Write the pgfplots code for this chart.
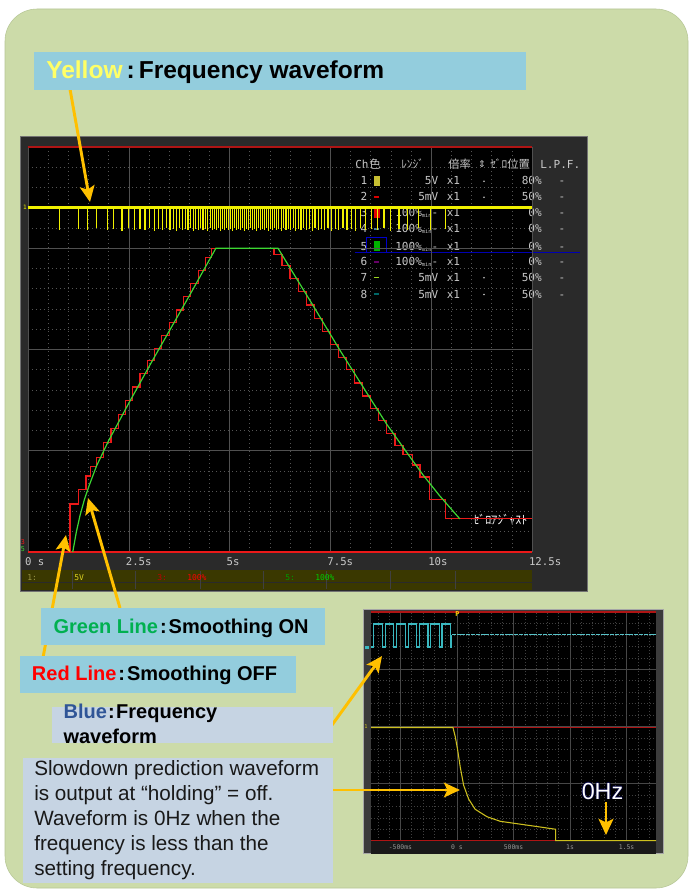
\documentclass[border=0pt]{standalone}
\usepackage{fontspec}
\setmainfont{Liberation Sans}
\newfontfamily\osc{DejaVu Sans Mono}
\newfontfamily\jp{Noto Sans CJK JP}
\newfontfamily\dv{DejaVu Sans}
\usepackage{pgfplots}
\pgfplotsset{compat=1.18}
\usetikzlibrary{arrows.meta}

\definecolor{panel}{RGB}{204,219,169}
\definecolor{panelline}{RGB}{182,198,150}
\definecolor{boxcyan}{RGB}{147,205,221}
\definecolor{boxgray}{RGB}{198,212,227}
\definecolor{arrow}{RGB}{255,192,0}
\definecolor{ylwtxt}{RGB}{255,255,102}
\definecolor{grntxt}{RGB}{0,176,80}
\definecolor{redtxt}{RGB}{255,0,0}
\definecolor{blutxt}{RGB}{47,85,151}
\definecolor{scrframe}{RGB}{42,42,42}
\definecolor{scrtext}{RGB}{200,200,200}
\definecolor{scrgrid}{RGB}{80,80,80}
\definecolor{scrminor}{RGB}{85,85,85}
\definecolor{scrred}{RGB}{175,20,20}
\definecolor{tracered}{RGB}{235,25,25}
\definecolor{tracegreen}{RGB}{60,215,50}
\definecolor{traceyellow}{RGB}{240,240,0}
\definecolor{tracecyan}{RGB}{58,184,192}
\definecolor{traceolive}{RGB}{205,192,30}
\definecolor{barolive}{RGB}{58,56,0}

\newcommand\rmin{100\%\raisebox{-0.8pt}{\fontsize{4}{4}\selectfont min}-}

\tikzset{
  osct/.style={font=\osc\fontsize{8.3}{8.3}\selectfont, text=scrtext, inner sep=0pt},
  jpt/.style={font=\jp\fontsize{8.5}{8.5}\selectfont, text=scrtext, inner sep=0pt},
  arr/.style={draw=arrow, line width=2.2pt, -{Stealth[length=12pt,width=11pt,inset=2.5pt]}},
}

\begin{document}
\begin{tikzpicture}
% ---------- background and screen frames (px coordinates, y down)
\begin{scope}[x=0.75pt,y=-0.75pt]
  \useasboundingbox (0,0) rectangle (691,892);
  \fill[white] (0,0) rectangle (691,892);
  \draw[panelline, fill=panel, rounded corners=24pt] (5,9) rectangle (688,888);
  % main screen
  \draw[fill=scrframe, draw=black!55] (20,136.5) rectangle (587,591);
  \fill[black] (28,147) rectangle (532,552);
  \coordinate (mainSW) at (28,552);
  % channel list
  \node[osct, anchor=base west] at (355,168) {Ch};
  \node[jpt, anchor=base west] at (369,168) {色};
  \node[jpt, anchor=base west] at (401,168) {ﾚﾝｼﾞ};
  \node[jpt, anchor=base west] at (448,168) {倍率};
  \node[osct, anchor=base, font=\dv\fontsize{7}{7}\selectfont] at (482,167.5) {⇕};
  \node[jpt, anchor=base west] at (490,168) {ｾﾞﾛ位置};
  \node[osct, anchor=base west] at (540,168) {L.P.F.};
  \foreach \n/\yy/\rng/\pos/\dt in {1/184.7/5V/80/1, 2/200.7/5mV/50/1, 3/216.7/\rmin/0/0,
      4/232.7/\rmin/0/0, 5/250/\rmin/0/0, 6/265.7/\rmin/0/0, 7/281.3/5mV/50/1, 8/298/5mV/50/1}{
    \node[osct, anchor=base] at (364,\yy) {\n};
    \node[osct, anchor=base east] at (438.5,\yy) {\rng};
    \node[osct, anchor=base west] at (446.5,\yy) {x1};
    \ifnum\dt=1 \fill[scrtext] (484,\yy-3.5) circle (0.9);\fi
    \node[osct, anchor=base east] at (542,\yy) {\pos\%};
    \node[osct, anchor=base] at (562,\yy) {-};
  }
  \fill[yellow!75!black] (374,175.5) rectangle (380,186);
  \fill[red!85!black] (374,196) rectangle (379,197.5);
  \fill[red!90!black] (374,207.5) rectangle (380,218);
  \fill[cyan!60!black] (374,228) rectangle (379,229.5);
  \fill[green!70!black] (374,240.5) rectangle (380,251);
  \draw[blue!80!black, line width=0.6pt] (366.7,237.3) rectangle (386.7,252.7);
  \draw[blue!70!black, line width=0.6pt] (355,252.7) -- (580,252.7);
  \fill[violet!80!black] (374,261) rectangle (379,262.5);
  \fill[yellow!60!green] (374,276.5) rectangle (379,278);
  \fill[teal!80!black] (374,293) rectangle (379,294.5);
  % bottom channel bar
  \fill[barolive] (22,570) rectangle (532,581.5);
  \fill[barolive] (22,583) rectangle (532,590);
  \foreach \xx in {72,135,200,263,326,390,455}
    \draw[black!75, line width=0.5pt] (\xx,571) -- (\xx,589);
  \node[osct, anchor=base west, font=\osc\fontsize{6}{6}\selectfont, text=yellow!55!black] at (27,580) {1:};
  \node[osct, anchor=base west, font=\osc\fontsize{6}{6}\selectfont, text=yellow!85!black] at (74,580) {5V};
  \node[osct, anchor=base west, font=\osc\fontsize{6}{6}\selectfont, text=red!75!black] at (157,580) {3:};
  \node[osct, anchor=base west, font=\osc\fontsize{6}{6}\selectfont, text=red] at (187,580) {100\%};
  \node[osct, anchor=base west, font=\osc\fontsize{6}{6}\selectfont, text=green!60!black] at (285,580) {5:};
  \node[osct, anchor=base west, font=\osc\fontsize{6}{6}\selectfont, text=green!80!black] at (315,580) {100\%};
  % left channel markers
  \node[osct, font=\osc\fontsize{4.5}{4.5}\selectfont, text=traceyellow] at (25,207) {1};
  \node[osct, font=\osc\fontsize{5}{5}\selectfont, text=tracered] at (23,542) {3};
  \node[osct, font=\osc\fontsize{5}{5}\selectfont, text=tracegreen] at (23,549) {5};
  \node[anchor=base west, inner sep=0pt, font=\jp\fontsize{9}{9}\selectfont, text=white] at (473,524) {ｾﾞﾛｱｼﾞｬｽﾄ};
  % inset screen
  \draw[fill=black!77, draw=black!35] (363.5,609) rectangle (663.5,853.5);
  \fill[black!90] (371,841) rectangle (656,853.5);
  \coordinate (insetSW) at (371,840.7);
\end{scope}

% ---------- main recorder screen
\begin{axis}[
  at={(mainSW)}, anchor=south west,
  scale only axis, width=378pt, height=303.75pt,
  xmin=0, xmax=12.5, ymin=0, ymax=4,
  clip=false,
  axis line style={draw=none},
  tick style={draw=none},
  xtick={0,2.5,5,7.5,10,12.5},
  xticklabels={0 s,2.5s,5s,7.5s,10s,12.5s},
  ytick={0,1,2,3,4}, yticklabels={},
  minor x tick num=4, minor y tick num=4,
  grid=both,
  major grid style={draw=scrgrid, line width=0.45pt},
  minor grid style={draw=scrminor, line width=0.45pt, dash pattern=on 0.6pt off 2.4pt},
  xticklabel style={font=\osc\fontsize{8}{8}\selectfont, text=scrtext,
    anchor=north west, inner sep=0pt, xshift=-2.4pt, yshift=-3.8pt},
]
\draw[scrred, line width=1.3pt] (axis cs:0,4) -- (axis cs:12.5,4);
\draw[tracered, line width=1.3pt] (axis cs:0,0) -- (axis cs:12.5,0);
% Smoothing OFF (red)
\addplot[const plot, draw=tracered, line width=0.9pt] coordinates {
(0,0)(1.04,0.475)(1.245,0.62)(1.44,0.75)(1.56,0.845)(1.70,0.93)(1.88,1.08)(2.06,1.22)
(2.24,1.36)(2.42,1.50)(2.60,1.63)(2.78,1.76)(2.96,1.89)(3.14,2.01)(3.32,2.14)(3.50,2.27)
(3.68,2.39)(3.86,2.52)(4.04,2.65)(4.22,2.78)(4.40,2.91)(4.56,3.0)
(6.10,2.94)(6.30,2.83)(6.50,2.70)(6.70,2.57)(6.90,2.44)(7.10,2.31)(7.30,2.18)(7.50,2.05)
(7.70,1.92)(7.90,1.80)(8.10,1.67)(8.30,1.54)(8.50,1.42)(8.70,1.30)(8.90,1.17)(9.10,1.05)
(9.30,0.96)(9.54,0.86)(9.72,0.74)(9.95,0.52)(10.35,0.327)(12.5,0.327)};
% Smoothing ON (green)
\addplot[draw=tracegreen, line width=0.9pt] coordinates {
(1.11,0)(1.20,0.20)(1.29,0.36)(1.40,0.52)(1.52,0.66)(1.70,0.85)(2.0,1.10)(2.5,1.47)
(3.0,1.83)(3.5,2.18)(4.0,2.53)(4.66,3.0)(6.2,3.0)(7.0,2.48)(7.74,1.99)(8.5,1.51)
(8.9,1.26)(9.4,0.98)(9.8,0.76)(10.2,0.56)(10.71,0.327)};
% frequency pulses (yellow)
\addplot[draw=traceyellow, line width=2.2pt] coordinates {(0,3.4)(12.5,3.4)};
\addplot[draw=none, mark=none,
  error bars/.cd, y dir=minus, y explicit, error mark=none,
  error bar style={draw=traceyellow, solid, line width=0.9pt}]
  table[x index=0, y index=1, y error minus index=2] {
0.79 3.4 0.22
1.25 3.4 0.21
1.47 3.4 0.22
1.70 3.4 0.20
1.97 3.4 0.22
2.13 3.4 0.21
2.33 3.4 0.23
2.50 3.4 0.20
2.64 3.4 0.22
2.78 3.4 0.21
2.90 3.4 0.22
3.02 3.4 0.20
3.13 3.4 0.23
3.24 3.4 0.21
3.34 3.4 0.22
3.43 3.4 0.20
3.52 3.4 0.22
3.60 3.4 0.21
3.68 3.4 0.23
3.76 3.4 0.20
3.83 3.4 0.22
3.90 3.4 0.21
3.97 3.4 0.22
4.04 3.4 0.20
4.10 3.4 0.23
4.16 3.4 0.21
4.22 3.4 0.22
4.28 3.4 0.20
4.34 3.4 0.22
4.40 3.4 0.21
4.46 3.4 0.23
4.52 3.4 0.20
4.57 3.4 0.22
4.62 3.4 0.21
4.67 3.4 0.22
4.72 3.4 0.20
4.77 3.4 0.23
4.82 3.4 0.21
4.87 3.4 0.22
4.92 3.4 0.20
4.97 3.4 0.22
5.02 3.4 0.21
5.07 3.4 0.23
5.12 3.4 0.20
5.17 3.4 0.22
5.22 3.4 0.21
5.27 3.4 0.22
5.32 3.4 0.20
5.37 3.4 0.23
5.42 3.4 0.21
5.47 3.4 0.22
5.52 3.4 0.20
5.57 3.4 0.22
5.62 3.4 0.21
5.67 3.4 0.23
5.72 3.4 0.20
5.77 3.4 0.22
5.82 3.4 0.21
5.87 3.4 0.22
5.92 3.4 0.20
5.97 3.4 0.23
6.02 3.4 0.21
6.07 3.4 0.22
6.12 3.4 0.20
6.17 3.4 0.22
6.22 3.4 0.21
6.28 3.4 0.23
6.34 3.4 0.20
6.40 3.4 0.22
6.46 3.4 0.21
6.52 3.4 0.22
6.58 3.4 0.20
6.64 3.4 0.23
6.70 3.4 0.21
6.77 3.4 0.22
6.84 3.4 0.20
6.91 3.4 0.22
6.98 3.4 0.21
7.05 3.4 0.23
7.12 3.4 0.20
7.20 3.4 0.22
7.28 3.4 0.21
7.36 3.4 0.22
7.44 3.4 0.20
7.53 3.4 0.23
7.62 3.4 0.21
7.71 3.4 0.22
7.81 3.4 0.20
7.91 3.4 0.22
8.02 3.4 0.21
8.13 3.4 0.23
8.25 3.4 0.20
8.38 3.4 0.22
8.52 3.4 0.21
8.67 3.4 0.22
8.83 3.4 0.20
9.00 3.4 0.23
9.20 3.4 0.21
9.42 3.4 0.22
9.68 3.4 0.20
9.98 3.4 0.22
10.35 3.4 0.21
};
\end{axis}

% ---------- inset: slowdown prediction
\begin{axis}[
  at={(insetSW)}, anchor=south west,
  scale only axis, width=213.75pt, height=171.5pt,
  xmin=-0.76, xmax=1.76, ymin=0, ymax=4,
  clip=false,
  axis background/.style={fill=black},
  axis line style={draw=none}, tick style={draw=none},
  xtick={-0.5,0,0.5,1,1.5}, xticklabels={-500ms,0 s,500ms,1s,1.5s},
  minor xtick={-0.7,-0.6,-0.4,-0.3,-0.2,-0.1,0.1,0.2,0.3,0.4,0.6,0.7,0.8,0.9,1.1,1.2,1.3,1.4,1.6,1.7},
  ytick={0,1,2,3,4}, yticklabels={}, minor y tick num=4,
  grid=both,
  major grid style={draw=black!72, line width=0.4pt},
  minor grid style={draw=black!75, line width=0.4pt, dash pattern=on 0.5pt off 1.8pt},
  xticklabel style={font=\osc\fontsize{4.8}{4.8}\selectfont, text=black!40, inner sep=0pt, yshift=-2.6pt},
]
\draw[scrred, line width=1pt] (axis cs:-0.76,4) -- (axis cs:1.76,4);
\draw[scrred, line width=1pt] (axis cs:-0.76,0) -- (axis cs:1.76,0);
\addplot[draw=scrred, line width=0.8pt] coordinates {(-0.76,1.98)(1.76,1.98)};
\addplot[draw=tracecyan, line width=0.9pt] coordinates {
(-0.76,3.39)(-0.741,3.39)(-0.741,3.79)(-0.661,3.79)(-0.661,3.39)(-0.632,3.39)(-0.632,3.79)
(-0.559,3.79)(-0.559,3.39)(-0.535,3.39)(-0.535,3.79)(-0.456,3.79)(-0.456,3.39)(-0.432,3.39)
(-0.432,3.79)(-0.359,3.79)(-0.359,3.39)(-0.329,3.39)(-0.329,3.79)(-0.256,3.79)(-0.256,3.39)
(-0.235,3.39)(-0.235,3.79)(-0.156,3.79)(-0.156,3.39)(-0.132,3.39)(-0.132,3.79)(-0.059,3.79)
(-0.059,3.39)(-0.045,3.39)(-0.045,3.60)};
\addplot[draw=tracecyan!85!white, line width=0.7pt, dash pattern=on 3pt off 0.6pt] coordinates {
(-0.045,3.60)(1.76,3.60)};
\addplot[draw=traceolive, line width=0.8pt] coordinates {
(-0.76,1.98)(-0.035,1.98)(-0.015,1.82)(0.006,1.59)(0.029,1.29)(0.059,0.97)(0.103,0.73)
(0.161,0.55)(0.265,0.42)(0.382,0.34)(0.558,0.29)(0.735,0.24)(0.873,0.20)(0.873,0)(1.76,0)};
\end{axis}

% ---------- annotations
\begin{scope}[x=0.75pt,y=-0.75pt]
  \node[inner sep=0pt, font=\osc\bfseries\fontsize{5}{5}\selectfont, text=yellow!80!orange] at (457.5,614) {P};
  \fill[tracecyan] (364.5,645.5) rectangle (368.5,648.5);
  \node[inner sep=0pt, font=\osc\fontsize{4}{4}\selectfont, text=traceolive] at (366,727) {1};
  % arrows
  \draw[arr] (70,89) -- (90,202);
  \draw[arr] (120,608) -- (88,498);
  \draw[arr] (42,663) -- (66,535);
  \draw[arr] (332,725) -- (382,656);
  \draw[arr] (332,790) -- (460,790);
  \draw[arr] (606,802) -- (606,835);
  % boxes
  \fill[boxcyan] (34,52.3) rectangle (526,90);
  \fill[boxcyan] (41,608) rectangle (325,645);
  \fill[boxcyan] (20,655.7) rectangle (296,692.7);
  \fill[boxgray] (52.3,706.7) rectangle (333.3,743.3);
  \fill[boxgray] (23.3,757.7) rectangle (333.3,882.7);
  % box texts
  \node[anchor=base west, inner sep=0pt, font=\bfseries\fontsize{18.4}{18.4}\selectfont] at (46,78.5)
    {\textcolor{ylwtxt}{Yellow}\hspace{3pt}:\hspace{3pt}Frequency waveform};
  \node[anchor=base west, inner sep=0pt, font=\bfseries\fontsize{15}{15}\selectfont] at (53.3,633.3)
    {\textcolor{grntxt}{Green Line}\hspace{1.5pt}:\hspace{1.5pt}Smoothing ON};
  \node[anchor=base west, inner sep=0pt, font=\bfseries\fontsize{15}{15}\selectfont] at (31.7,680.7)
    {\textcolor{redtxt}{Red Line}\hspace{1.5pt}:\hspace{1.5pt}Smoothing OFF};
  \node[anchor=base west, inner sep=0pt, font=\bfseries\fontsize{15}{15}\selectfont] at (63.3,718.3)
    {\textcolor{blutxt}{Blue}\hspace{1pt}:\hspace{1pt}Frequency};
  \node[anchor=base west, inner sep=0pt, font=\bfseries\fontsize{15}{15}\selectfont] at (63.3,743.3)
    {waveform};
  \foreach \yy/\txt in {775/Slowdown prediction waveform, 800/is output at “holding” = off.,
      825/Waveform is 0Hz when the, 850/frequency is less than the, 875/setting frequency.}
    \node[anchor=base west, inner sep=0pt, font=\fontsize{15.5}{15.5}\selectfont, text=black!90] at (34,\yy) {\txt};
  % 0Hz label
  \foreach \dx/\dy in {-0.8/0,0.8/0,0/-0.8,0/0.8}
    \node[anchor=base, inner sep=0pt, font=\fontsize{17.5}{17.5}\selectfont, text=blue!25!black] at (602.5+\dx,799+\dy) {0Hz};
  \node[anchor=base, inner sep=0pt, font=\fontsize{17.5}{17.5}\selectfont, text=white] at (602.5,799) {0Hz};
\end{scope}
\end{tikzpicture}
\end{document}
